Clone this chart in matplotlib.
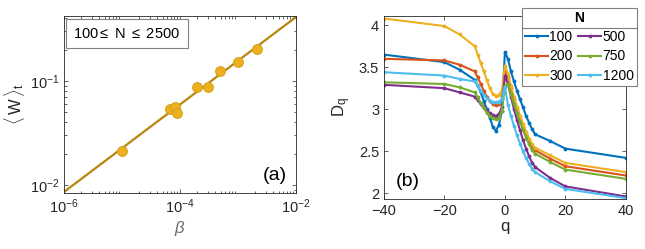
import numpy as np
import matplotlib
matplotlib.use('Agg')
import matplotlib.pyplot as plt
from matplotlib.lines import Line2D

plt.rcParams['font.family'] = ['Liberation Sans', 'DejaVu Sans']
plt.rcParams['mathtext.fontset'] = 'custom'
plt.rcParams['mathtext.rm'] = 'Liberation Sans'
plt.rcParams['mathtext.it'] = 'Liberation Sans:italic'

# panel (a): <W>_t vs beta
beta = [1.0e-5, 6.7e-5, 8.1e-5, 8.9e-5, 2.0e-4, 3.0e-4, 4.9e-4, 1.0e-3, 2.1e-3]
W = [0.0212, 0.054, 0.056, 0.049, 0.0875, 0.0875, 0.125, 0.152, 0.204]
fit_beta = [1e-6, 1e-2]
fit_W = [0.0086, 0.41]

# panel (b): D_q vs q
q = [-40, -20, -15, -10, -9, -8, -7, -6, -5, -4, -3, -2, -1, 0,
     1, 2, 3, 4, 5, 6, 7, 8, 9, 10, 15, 20, 40]
N_labels = ['100', '200', '300', '500', '750', '1200']
D_100 = [3.65, 3.56, 3.47, 3.35, 3.28, 3.20, 3.10, 3.00, 2.90, 2.79, 2.74, 2.81, 2.98, 3.68,
         3.60, 3.45, 3.33, 3.22, 3.12, 3.02, 2.92, 2.84, 2.76, 2.70, 2.62, 2.53, 2.42]
D_200 = [3.60, 3.58, 3.53, 3.45, 3.38, 3.30, 3.22, 3.15, 3.10, 3.06, 3.05, 3.06, 3.12, 3.45,
         3.38, 3.25, 3.12, 3.00, 2.89, 2.79, 2.70, 2.62, 2.56, 2.51, 2.41, 2.32, 2.21]
D_300 = [4.08, 3.99, 3.89, 3.75, 3.65, 3.55, 3.45, 3.35, 3.25, 3.18, 3.16, 3.17, 3.22, 3.52,
         3.42, 3.28, 3.15, 3.03, 2.92, 2.82, 2.73, 2.65, 2.58, 2.54, 2.45, 2.36, 2.25]
D_500 = [3.29, 3.25, 3.20, 3.15, 3.11, 3.06, 3.02, 2.98, 2.95, 2.93, 2.92, 2.94, 3.02, 3.40,
         3.30, 3.15, 3.00, 2.87, 2.75, 2.63, 2.53, 2.44, 2.36, 2.31, 2.18, 2.08, 1.96]
D_750 = [3.32, 3.30, 3.26, 3.20, 3.14, 3.07, 3.01, 2.96, 2.92, 2.89, 2.88, 2.89, 2.98, 3.28,
         3.30, 3.18, 3.06, 2.95, 2.85, 2.75, 2.66, 2.58, 2.51, 2.47, 2.37, 2.28, 2.17]
D_1200 = [3.44, 3.40, 3.36, 3.33, 3.28, 3.22, 3.17, 3.13, 3.10, 3.08, 3.08, 3.09, 3.12, 3.27,
          3.05, 2.92, 2.80, 2.69, 2.59, 2.50, 2.42, 2.35, 2.29, 2.25, 2.14, 2.05, 1.94]

colors = ['#0072BD', '#D95319', '#EDB120', '#7E2F8E', '#77AC30', '#4DBEEE']
axcol = '#262626'

fig = plt.figure(figsize=(6.45, 2.49), dpi=100)
ax1 = fig.add_axes([0.0992, 0.2249, 0.3597, 0.711])
ax2 = fig.add_axes([0.5953, 0.2008, 0.375, 0.735])

for ax in (ax1, ax2):
    for s in ax.spines.values():
        s.set_color(axcol)
        s.set_linewidth(0.6)
    ax.tick_params(which='both', direction='in', top=True, right=True,
                   colors=axcol, labelsize=10.5, width=0.5)
    ax.tick_params(which='major', length=3)
    ax.tick_params(which='minor', length=1.8)

# (a)
ax1.plot(fit_beta, fit_W, color='#B8860B', lw=1.6, zorder=2)
ax1.plot(beta, W, 'o', ms=7, mfc='#EDB120', mec='#D9A21C', mew=0.8, zorder=3)
ax1.set_xscale('log')
ax1.set_yscale('log')
ax1.set_xlim(1e-6, 1e-2)
ax1.set_ylim(0.0084, 0.42)
ax1.set_xticks([1e-6, 1e-4, 1e-2])
ax1.set_yticks([1e-2, 1e-1])
ax1.set_xlabel(r'$\beta$', fontsize=12, color='#6a6a6a', labelpad=2)
ax1.set_ylabel(r'$\langle\,\mathrm{W}\,\rangle_{\mathrm{t}}$', fontsize=12, color=axcol, labelpad=2)
ax1.text(0.04, 0.94, r'100$\leq$ N $\leq$ 2500', transform=ax1.transAxes, fontsize=10.5,
         va='top', ha='left', color='black',
         bbox=dict(boxstyle='square,pad=0.5', fc='white', ec='#808080', lw=0.8))
ax1.text(0.96, 0.05, '(a)', transform=ax1.transAxes, fontsize=14, ha='right', va='bottom')

# (b)
series = [D_100, D_200, D_300, D_500, D_750, D_1200]
handles = []
for D, c, lab in zip(series, colors, N_labels):
    h, = ax2.plot(q, D, '-', marker='.', ms=3.5, color=c, lw=1.5, label=lab)
    handles.append(h)
ax2.set_xlim(-40, 40)
ax2.set_ylim(1.93, 4.11)
ax2.set_xticks([-40, -20, 0, 20, 40])
ax2.set_yticks([2, 2.5, 3, 3.5, 4])
ax2.set_yticklabels(['2', '2.5', '3', '3.5', '4'])
ax2.set_xlabel('q', fontsize=12, color=axcol, labelpad=1)
ax2.set_ylabel(r'D$_{\mathrm{q}}$', fontsize=12, color=axcol, labelpad=4)
ax2.text(0.05, 0.05, '(b)', transform=ax2.transAxes, fontsize=14, ha='left', va='bottom')

leg = ax2.legend(handles=handles, ncol=2, loc='upper right', bbox_to_anchor=(1.045, 1.045),
                 fontsize=10, title='N', title_fontproperties={'weight': 'bold', 'size': 10},
                 frameon=True, fancybox=False, edgecolor='#808080', framealpha=1,
                 handlelength=1.65, handletextpad=0.1, columnspacing=0.4,
                 labelspacing=0.38, borderpad=0.22, borderaxespad=0)
leg.get_frame().set_linewidth(0.8)
leg.set_zorder(5)

# separator under legend title, MATLAB-style
fig.canvas.draw()
renderer = fig.canvas.get_renderer()
fb = leg.get_frame().get_window_extent(renderer)
tb = leg.get_title().get_window_extent(renderer)
ysep = tb.y0 - 3
inv = fig.transFigure.inverted()
(x0, y0) = inv.transform((fb.x0, ysep))
(x1, _) = inv.transform((fb.x1, ysep))
fig.add_artist(Line2D([x0, x1], [y0, y0], color='#808080', lw=0.8, zorder=6))

fig.savefig('out.png', dpi=100)
